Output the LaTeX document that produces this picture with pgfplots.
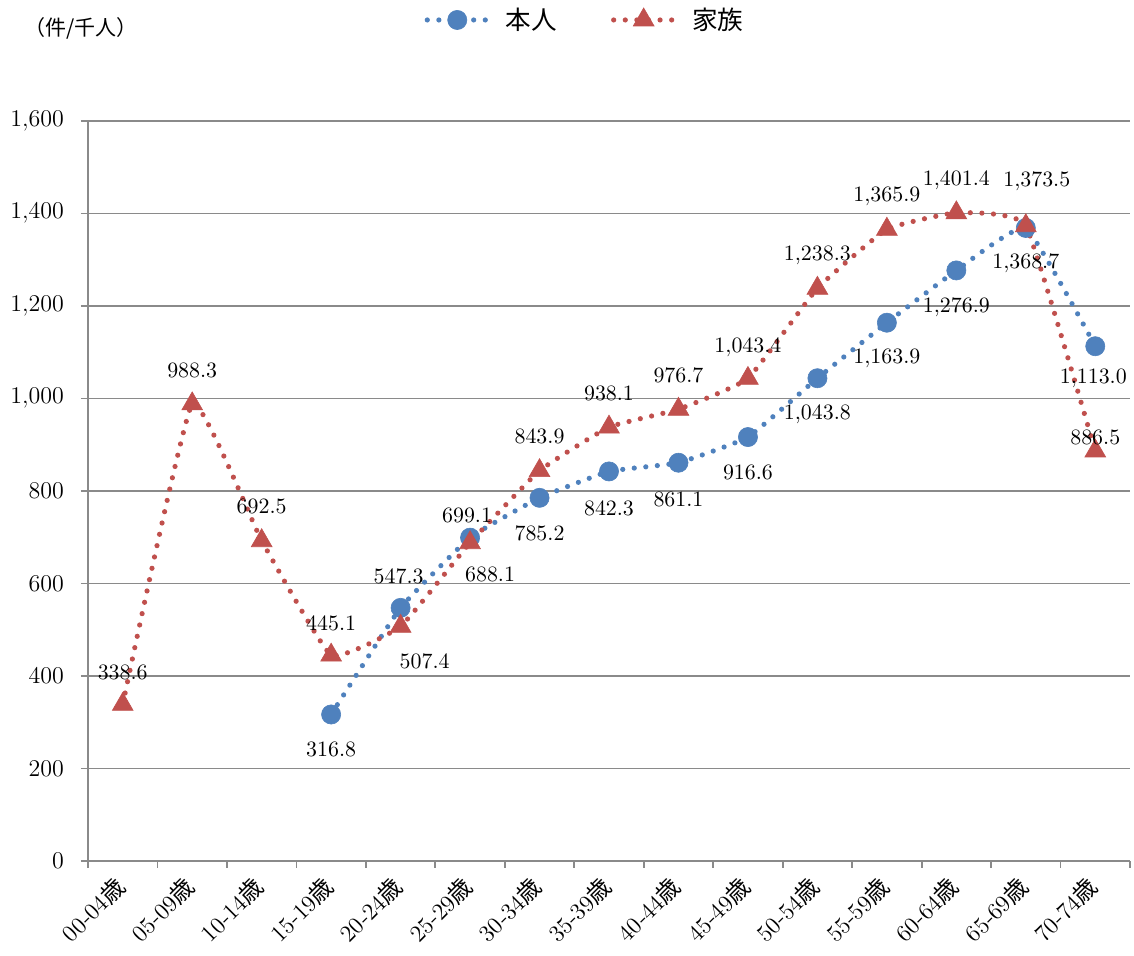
\documentclass[border=0pt]{standalone}
\usepackage{fontspec}
\usepackage{pgfplots}
\pgfplotsset{compat=1.18}
\usepackage{pgfplotstable}
\newfontfamily\cjk{Noto Sans CJK JP}
\definecolor{myblue}{HTML}{4F81BD}
\definecolor{myred}{HTML}{C0504D}
\definecolor{gridgray}{HTML}{8A8A8A}

\pgfplotstableread{
x y dx dy
3 316.8 0 -17.5
4 547.3 -1 15.5
5 699.1 -1.5 11
6 785.2 0 -18
7 842.3 0 -18.5
8 861.1 0 -18.5
9 916.6 0 -17.5
10 1043.8 0 -18
11 1163.9 0 -18
12 1276.9 0 -18.5
13 1368.7 0 -18
14 1113.0 -1 -16
}\honnin

\pgfplotstableread{
x y dx dy
0 338.6 0 16
1 988.3 0 16.5
2 692.5 0 17
3 445.1 0 16
4 507.4 12 -17.5
5 688.1 10 -16
6 843.9 0 17
7 938.1 0 17
8 976.7 0 17
9 1043.4 0 15.5
10 1238.3 0 16.5
11 1365.9 0 16.5
12 1401.4 0 16
13 1373.5 5.5 22
14 886.5 0 7
}\kazoku

\pgfplotsset{
  mylabels/.style={
    point meta=y,
    visualization depends on={\thisrow{dx} \as \ldx},
    visualization depends on={\thisrow{dy} \as \ldy},
    nodes near coords={\pgfmathprintnumber[fixed,fixed zerofill,precision=1,1000 sep={\mathord{,}}]{\pgfplotspointmeta}},
    every node near coord/.append style={black, font=\fontsize{11.3}{13}\selectfont, anchor=center, xshift=\ldx pt, yshift=\ldy pt},
  }
}

\begin{document}
\begin{tikzpicture}
\useasboundingbox (0,0) rectangle (567pt,478pt);
\begin{axis}[
  at={(44pt,47.5pt)}, anchor=south west,
  scale only axis, width=521pt, height=370pt,
  xmin=-0.5, xmax=14.5, ymin=0, ymax=1600,
  clip=false,
  xtick={-0.5,0.5,...,14.5},
  x tick label as interval,
  xticklabels={00-04{\cjk 歳},05-09{\cjk 歳},10-14{\cjk 歳},15-19{\cjk 歳},20-24{\cjk 歳},25-29{\cjk 歳},30-34{\cjk 歳},35-39{\cjk 歳},40-44{\cjk 歳},45-49{\cjk 歳},50-54{\cjk 歳},55-59{\cjk 歳},60-64{\cjk 歳},65-69{\cjk 歳},70-74{\cjk 歳}},
  xticklabel style={xshift=-5pt, yshift=-1.5pt, rotate=45, anchor=north east, inner sep=1pt, font=\fontsize{11.8}{13}\selectfont},
  ytick={0,200,...,1600},
  scaled y ticks=false,
  yticklabel style={font=\fontsize{11.8}{13}\selectfont, xshift=-5pt, /pgf/number format/1000 sep={\mathord{,}}},
  ymajorgrids,
  grid style={gridgray, line width=0.8pt},
  axis lines=left,
  axis line style={-, gridgray, line width=0.9pt},
  tick style={gridgray, line width=0.9pt},
  tick align=outside, major tick length=3.5pt,
  legend style={at={(0.478,1.1365)}, anchor=center, draw=none, fill=none,
    legend columns=2, font=\cjk\fontsize{12.8}{14}\selectfont,
    /tikz/every even column/.append style={column sep=25pt}},
  legend image code/.code={\draw[mark repeat=2,mark phase=2,#1] plot coordinates {(0pt,0pt) (15pt,0pt) (30pt,0pt)}; \path (36pt,0pt);},
]
\addplot[myblue, line width=2.6pt, line cap=round, dash pattern=on 0pt off 5.8pt, smooth, tension=0.22,
  mark=*, mark size=4.8pt, mark options={solid, fill=myblue, draw=myblue, line width=0.3pt}, mylabels]
  table[x=x,y=y] {\honnin};
\addlegendentry{本人}
\addplot[myred, line width=2.6pt, line cap=round, dash pattern=on 0pt off 5.8pt, smooth, tension=0.22,
  mark=triangle*, mark size=6pt, mark options={solid, fill=myred, draw=myred, line width=0.3pt}, mylabels]
  table[x=x,y=y] {\kazoku};
\addlegendentry{家族}
\node[font=\cjk\fontsize{10.5}{12}\selectfont] at (rel axis cs:-0.0067,1.1257) {（件/千人）};
\end{axis}
\end{tikzpicture}
\end{document}
